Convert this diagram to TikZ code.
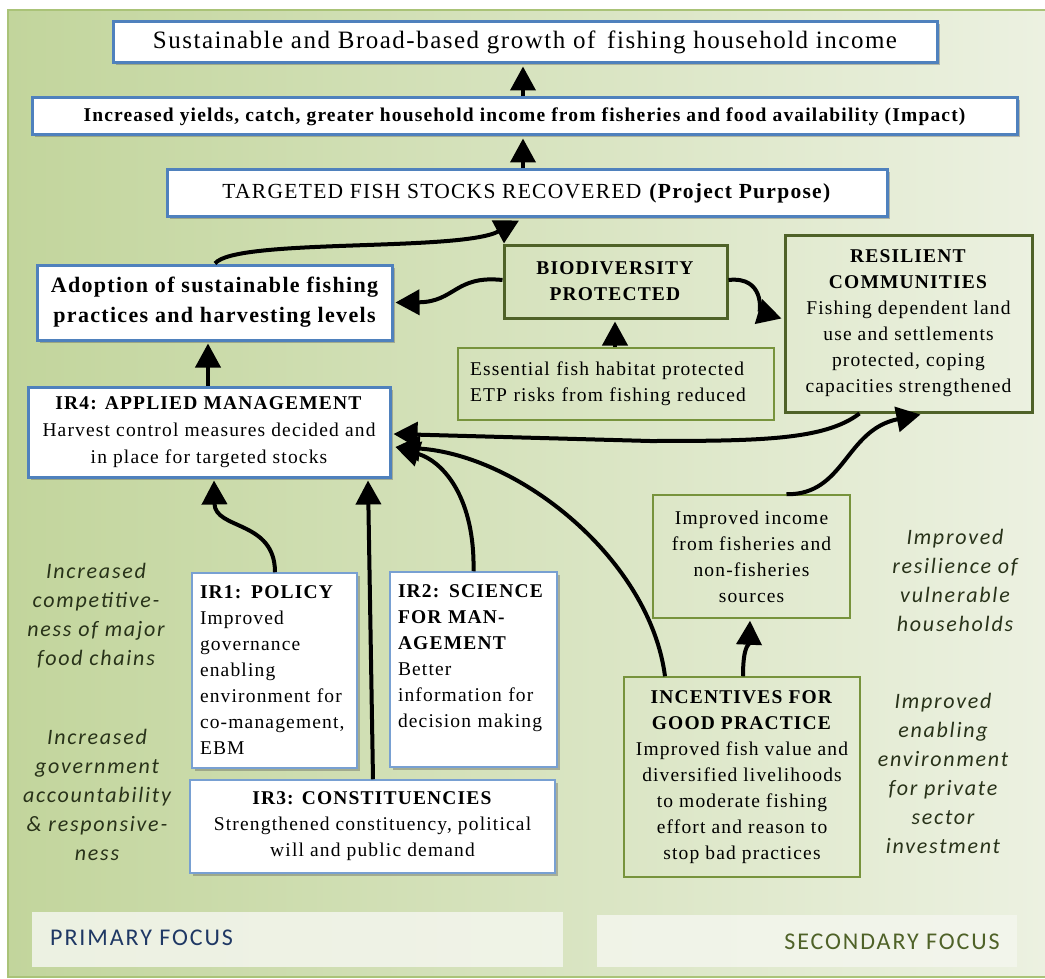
\documentclass[tikz,border=0pt]{standalone}
\usepackage{fontspec}
\setmainfont{Liberation Serif}[LetterSpace=6]
\newfontfamily\calfont{Carlito}[LetterSpace=8]
\usetikzlibrary{arrows.meta,shadows,calc}
\definecolor{blueB}{RGB}{79,129,189}
\definecolor{ltBlue}{RGB}{120,160,210}
\definecolor{olive}{RGB}{79,98,40}
\definecolor{oliveL}{RGB}{119,147,60}
\definecolor{navy}{RGB}{31,56,100}
\definecolor{labC}{RGB}{40,50,25}
\definecolor{bgL}{RGB}{194,213,156}
\definecolor{bgR}{RGB}{236,241,225}
\definecolor{frameC}{RGB}{170,195,120}
\definecolor{bandC}{RGB}{244,246,238}
\begin{document}
\begin{tikzpicture}[x=1pt,y=-1pt,
  bshadow/.style={drop shadow={shadow xshift=2.5pt,shadow yshift=-2.5pt,opacity=0.35,fill=black!70}},
  bluebox/.style={draw=blueB,line width=3pt,fill=white,bshadow,inner sep=0pt,align=center},
  thinblue/.style={draw=ltBlue,line width=1.5pt,fill=white,bshadow,inner xsep=8pt,inner ysep=0pt},
  gthick/.style={draw=olive,line width=3pt,inner sep=0pt,align=center},
  gthin/.style={draw=oliveL,line width=1.5pt,inner sep=0pt,align=center},
  body/.style={font=\fontsize{19.5}{26}\selectfont},
  arr/.style={line width=4pt,-{Triangle[length=24pt,width=25pt]}},
  sidelab/.style={text=labC,align=center,font=\calfont\itshape\fontsize{22}{29}\selectfont},
  band/.style={fill=bandC,fill opacity=0.85,draw=none,inner sep=0pt}]
\useasboundingbox (0,0) rectangle (1045,979);
\fill[white] (0,0) rectangle (1045,979);
\shade[left color=bgL,right color=bgR] (8,10) rectangle (1045,977);
\draw[frameC,line width=1.5pt] (1045,10) -- (8,10) -- (8,977) -- (1045,977);

% boxes
\node[bluebox,minimum width=824pt,minimum height=41pt,font=\fontsize{25}{30}\selectfont] (top) at (525,42.5)
  {Sustainable and Broad-based growth of\, fishing household income};
\node[bluebox,minimum width=985pt,minimum height=37pt,font=\bfseries\fontsize{19.5}{22}\selectfont] (impact) at (524.5,116.5)
  {Increased yields, catch, greater household income from fisheries and food availability (Impact)};
\node[bluebox,minimum width=720pt,minimum height=47pt,font=\fontsize{21.5}{24}\selectfont] (purpose) at (527,193.5)
  {TARGETED FISH STOCKS RECOVERED \textbf{(Project Purpose)}};
\node[bluebox,minimum width=355pt,minimum height=75pt,font=\bfseries\fontsize{22}{30}\selectfont] (adopt) at (214.5,302.5)
  {Adoption of sustainable fishing\\practices and harvesting levels};
\node[gthick,minimum width=223pt,minimum height=73pt,body] (bio) at (615.5,281.5)
  {\textbf{BIODIVERSITY}\\\textbf{PROTECTED}};
\node[gthick,minimum width=247pt,minimum height=177pt,body] (resil) at (908.5,323.5)
  {\textbf{RESILIENT}\\\textbf{COMMUNITIES}\\Fishing dependent land\\use and settlements\\protected, coping\\capacities strengthened};
\node[gthin,text width=292pt,inner xsep=12pt,minimum height=72pt,body,align=left] (ess) at (616,384)
  {Essential fish habitat protected\\ETP risks from fishing reduced};
\node[bluebox,minimum width=362pt,minimum height=90pt,font=\fontsize{19.5}{27}\selectfont] (ir4) at (209,432)
  {\textbf{IR4: APPLIED MANAGEMENT}\\Harvest control measures decided and\\in place for targeted stocks};
\node[gthin,minimum width=197pt,minimum height=123pt,body] (income) at (751.5,556.5)
  {Improved income\\from fisheries and\\non-fisheries\\sources};
\node[thinblue,text width=149pt,minimum height=195pt,align=left,body] (ir1) at (274.5,670.5)
  {\textbf{IR1: POLICY}\\Improved\\governance\\enabling\\environment for\\co-management,\\EBM};
\node[thinblue,text width=151pt,minimum height=195pt,align=left,body] (ir2) at (473.5,669.5)
  {\textbf{IR2: SCIENCE}\\\textbf{FOR MAN-}\\\textbf{AGEMENT}\\Better\\information for\\decision making\\\mbox{}};
\node[thinblue,minimum width=365pt,minimum height=93pt,align=center,body,inner xsep=0pt] (ir3) at (372.5,826.5)
  {\textbf{IR3: CONSTITUENCIES}\\Strengthened constituency, political\\will and public demand};
\node[gthin,minimum width=236pt,minimum height=200pt,body] (incent) at (742,777)
  {\textbf{INCENTIVES FOR}\\\textbf{GOOD PRACTICE}\\Improved fish value and\\diversified livelihoods\\to moderate fishing\\effort and reason to\\stop bad practices};

% side labels
\node[sidelab] (lab1) at (96,616) {Increased\\competitive-\\ness of major\\food chains};
\node[sidelab] (lab2) at (97,795) {Increased\\government\\accountability\\\& responsive-\\ness};
\node[sidelab] (lab3) at (955,580) {Improved\\resilience of\\vulnerable\\households};
\node[sidelab] (lab4) at (943,773) {Improved\\enabling\\environment\\for private\\sector\\investment};

% bands
\node[band,minimum width=531pt,minimum height=55pt] (prim) at (297.5,939.5) {};
\node[band,minimum width=420pt,minimum height=52pt] (sec) at (807,941) {};
\node[anchor=west,text=navy,font=\calfont\fontsize{24}{28}\selectfont,inner sep=0pt] (primt) at (50,938) {PRIMARY FOCUS};
\node[anchor=east,text=olive,font=\calfont\fontsize{24}{28}\selectfont,inner sep=0pt] (sect) at (1000,942) {SECONDARY FOCUS};

% connector helper points
\coordinate (a1) at ($(impact.north)+(-1.5,0)$);
\coordinate (a1e) at ($(top.south)+(-2,2)$);
\coordinate (a2) at ($(purpose.north)+(-4,0)$);
\coordinate (a2e) at ($(impact.south)+(-1.5,2)$);
\coordinate (adoptTop) at ($(adopt.north)+(0.5,0)$);
\coordinate (purpIn) at ($(purpose.south)+(-8,2)$);
\coordinate (ir4Top) at ($(ir4.north)+(-1,0)$);
\coordinate (adoptBot) at ($(adopt.south)+(-6.5,2)$);
\coordinate (bioL) at ($(bio.west)+(0,-1.5)$);
\coordinate (adoptR) at ($(adopt.east)+(2,0)$);
\coordinate (bioR) at ($(bio.east)+(0,-1.5)$);
\coordinate (resL) at ($(resil.west)+(-2,-5)$);
\coordinate (essTop) at ($(ess.north)+(-1,0)$);
\coordinate (bioBot) at ($(bio.south)+(-0.5,2)$);
\coordinate (resBot) at ($(resil.south)+(-49,0)$);
\coordinate (ir4R1) at ($(ir4.east)+(2,2)$);
\coordinate (ir4R2) at ($(ir4.east)+(4,15)$);
\coordinate (ir2Top) at ($(ir2.north)+(0,0)$);
\coordinate (incL) at ($(incent.north)+(-77,0)$);
\coordinate (incM) at ($(incent.north)+(1,0)$);
\coordinate (incomeBot) at ($(income.south)+(-1.5,2)$);
\coordinate (incomeTR) at ($(income.north)+(35,0)$);
\coordinate (resBotIn) at ($(resil.south)+(12,1)$);
\coordinate (ir1Top) at ($(ir1.north)+(0.5,0)$);
\coordinate (ir4B1) at ($(ir4.south)+(5,2)$);
\coordinate (ir3Top) at ($(ir3.north)+(0.5,0)$);
\coordinate (ir4B2) at ($(ir4.south)+(159,2)$);

% connectors
\draw[arr] (a1) -- (a1e);
\draw[arr] (a2) -- (a2e);
\draw[arr] (adoptTop) .. controls (235,238) and (460,252) .. (purpIn);
\draw[arr] (ir4Top) -- (adoptBot);
\draw[arr] (bioL) .. controls (455,275) and (455,302) .. (adoptR);
\draw[arr] (bioR) .. controls (765,276) and (760,312) .. (resL);
\draw[arr] (essTop) -- (bioBot);
\draw[arr] (resBot) .. controls (825,440) and (760,441) .. (650,441) -- (ir4R1);
\draw[arr] (ir2Top) .. controls (475,500) and (445,462) .. (ir4R2);
\draw[arr] (incL) .. controls (650,560) and (520,455) .. (ir4R2);
\draw[arr] (incM) .. controls (743,645) and (749,645) .. (incomeBot);
\draw[arr] (incomeTR) .. controls (845,495) and (845,430) .. (resBotIn);
\draw[arr] (ir1Top) .. controls (275,520) and (215,530) .. (ir4B1);
\draw[arr] (ir3Top) -- (ir4B2);
\end{tikzpicture}
\end{document}
